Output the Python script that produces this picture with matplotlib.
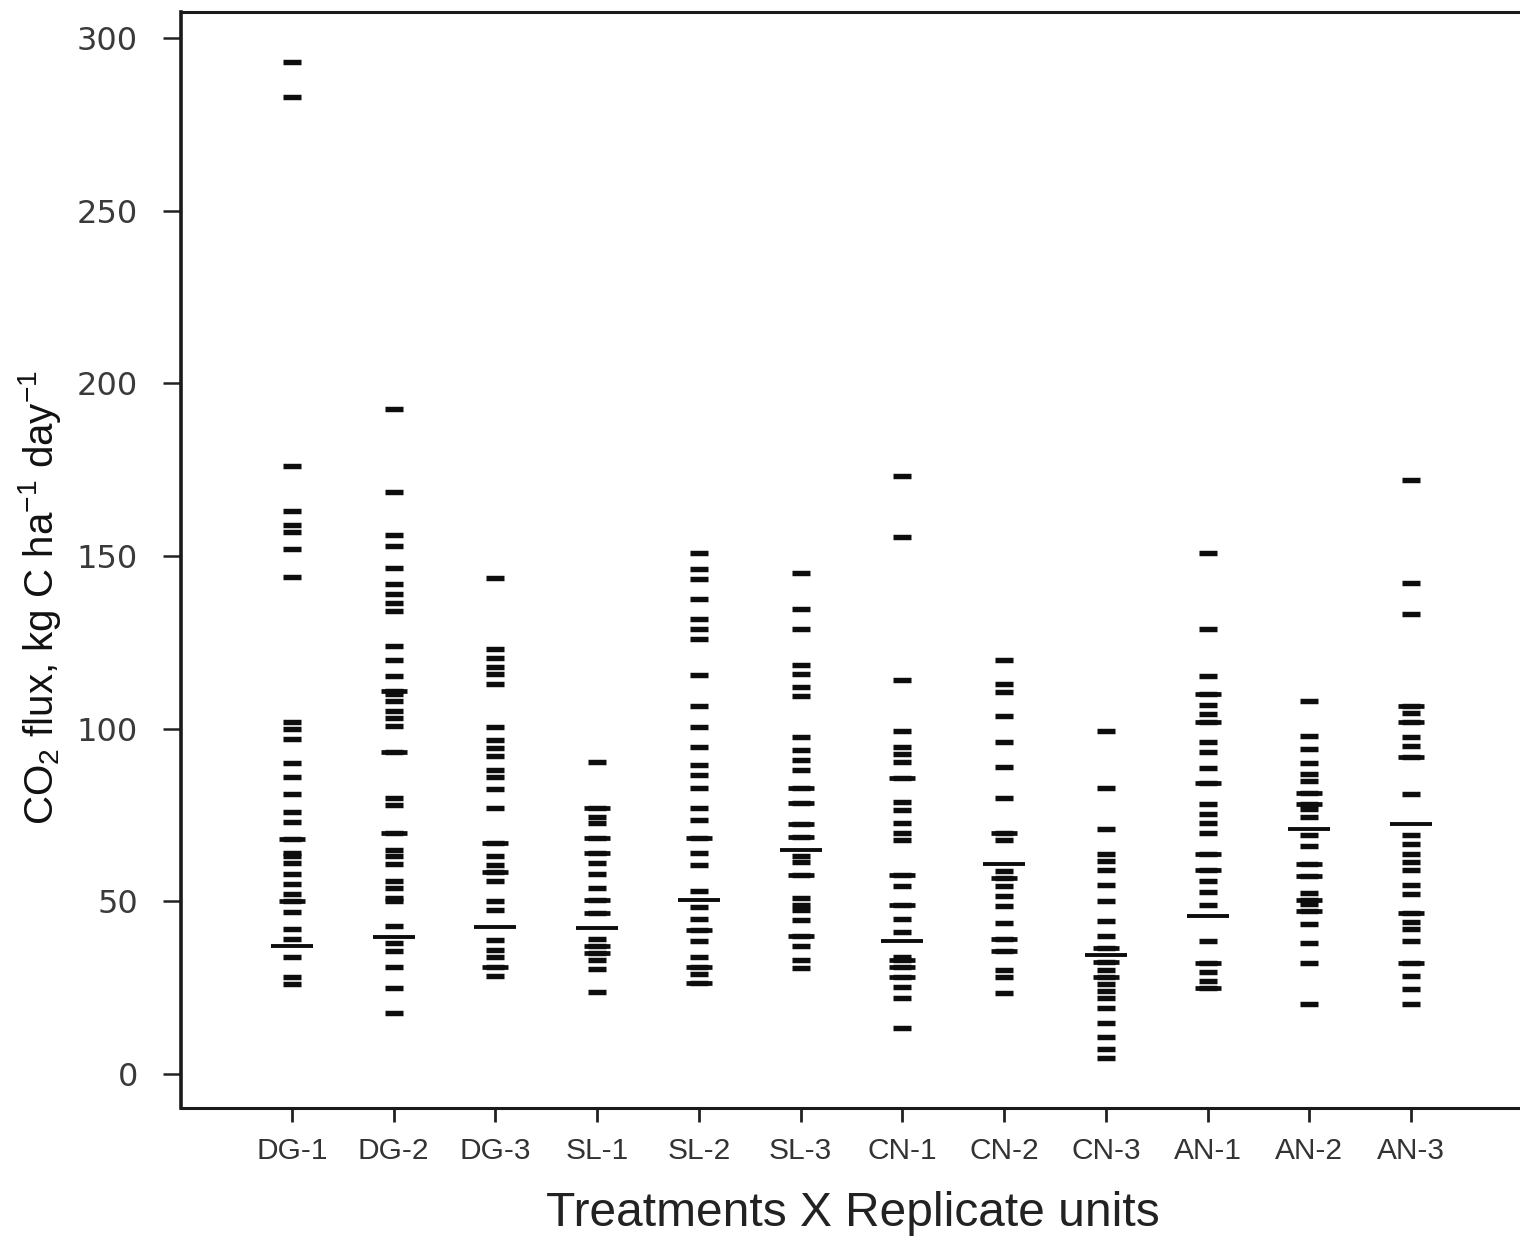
import numpy as np
import matplotlib
matplotlib.use("Agg")
import matplotlib.pyplot as plt

groups = ["DG-1", "DG-2", "DG-3", "SL-1", "SL-2", "SL-3",
          "CN-1", "CN-2", "CN-3", "AN-1", "AN-2", "AN-3"]

dg1 = [293, 283, 176, 163, 159, 157, 152, 144, 102, 100, 97, 90, 86, 81, 76, 73,
       68, 64, 63, 61, 58, 55, 52, 50, 47, 42, 39, 34, 28, 26]
dg2 = [192.5, 168.6, 156, 153, 146.5, 142, 139, 136.5, 134, 124, 120, 115.4, 111,
       110, 108, 105, 103, 100.8, 93.3, 80, 78, 69.8, 65, 63, 60.8, 56, 53.8, 51,
       50, 42.9, 38, 35.5, 31, 25, 17.6]
dg3 = [143.6, 123, 120.5, 118, 116, 113, 100.6, 96.7, 94.5, 92, 88, 86, 82.5, 77,
       66.9, 63, 60.5, 58.5, 56, 50.2, 47.5, 38.8, 36, 34, 31, 28.5]
sl1 = [90.5, 77, 74.5, 72.6, 68.3, 64, 61, 58, 54, 50.4, 46.6, 39, 37, 35, 33,
       30.5, 23.8]
sl2 = [151, 146.4, 143.5, 137.6, 131.8, 128.8, 125.9, 115.6, 106.6, 100.6, 94.6,
       89.5, 86.6, 82.7, 77, 73.5, 68.3, 64, 60.5, 53, 48.4, 45, 41.7, 38.5, 34,
       31, 29, 26.5]
sl3 = [145, 134.6, 128.8, 118.4, 116, 112, 109.6, 97.7, 93.8, 91, 88, 82.7, 78.4,
       72.4, 68.7, 63, 61.4, 57.6, 51, 49, 47.5, 44.6, 40, 37, 33, 30.7]
cn1 = [173.2, 155.4, 114, 99.3, 94.7, 92.6, 90.4, 85.7, 78.8, 76.5, 72.7, 69.9,
       67.7, 57.7, 54.5, 48.9, 45, 41.2, 34, 33, 31, 28, 25.2, 22, 13.3]
cn2 = [120, 113, 110.5, 103.7, 96.3, 88.9, 79.8, 69.9, 67.7, 58.8, 56.8, 54.5,
       51.5, 48.7, 43.8, 39, 35.5, 30, 28, 23.5]
cn3 = [99.3, 82.8, 71, 63.8, 61.6, 59.1, 54.7, 50.2, 44.4, 40, 36.6, 32.5, 30,
       28, 26, 24, 22, 19.2, 14.8, 10.6, 7.2, 4.6]
an1 = [151, 128.8, 115.3, 110, 107, 104.3, 102, 96.2, 93.2, 88.7, 84.3, 78.2,
       75.4, 72.7, 69.9, 63.8, 59, 56, 52.7, 48.9, 38.6, 32.2, 29.5, 27, 25]
an2 = [108, 98, 94, 90, 86.9, 85, 81.3, 78.3, 76.7, 74.5, 69.2, 66, 60.8, 57.3,
       52.5, 50.5, 49.3, 47.2, 43.4, 38, 32.1, 20.4]
an3 = [172, 142.3, 133.3, 106.7, 104.5, 102, 97.6, 94.9, 91.7, 81.2, 69.2, 66.5,
       63.8, 61.5, 59, 54.7, 52, 46.6, 44, 42, 38.6, 32.1, 28.4, 24.6, 20.4]

# flux values drawn with a slightly wider dash (overlapping readings)
dg1_wide = [68, 50]
dg2_wide = [111, 93.3, 69.8]
dg3_wide = [66.9, 58.5, 31]
sl1_wide = [77, 68.3, 64, 50.4, 46.6, 37, 35]
sl2_wide = [68.3, 41.7, 31, 26.5]
sl3_wide = [82.7, 78.4, 72.4, 68.7, 57.6, 40]
cn1_wide = [85.7, 57.7, 48.9, 33, 31, 28]
cn2_wide = [69.9, 56.8, 39, 35.5]
cn3_wide = [36.6, 32.5, 28]
an1_wide = [110, 102, 84.3, 63.8, 59, 32.2, 25]
an2_wide = [81.3, 78.3, 60.8, 57.3, 50.5, 47.2]
an3_wide = [106.7, 102, 91.7, 46.6, 32.1]

# long centre line per unit
centre = [37, 39.8, 42.7, 42.3, 50.4, 64.9, 38.6, 60.8, 34.5, 45.8, 71, 72.4]

series = [dg1, dg2, dg3, sl1, sl2, sl3, cn1, cn2, cn3, an1, an2, an3]
wides = [dg1_wide, dg2_wide, dg3_wide, sl1_wide, sl2_wide, sl3_wide,
         cn1_wide, cn2_wide, cn3_wide, an1_wide, an2_wide, an3_wide]

yticks = [0, 50, 100, 150, 200, 250, 300]

plt.rcParams['mathtext.default'] = 'regular'

fig = plt.figure(figsize=(15.2, 12.4), dpi=100)
ax = fig.add_axes([181 / 1520, 1 - 1108 / 1240, 1 - 181 / 1520, (1108 - 12) / 1240])

ink = '#0d0d0d'
for i, vals in enumerate(series):
    ax.plot(np.full(len(vals), i), vals, linestyle='none', marker='_',
            markersize=13.5, markeredgewidth=3.9, color=ink)
    w = wides[i]
    ax.plot(np.full(len(w), i), w, linestyle='none', marker='_',
            markersize=19, markeredgewidth=3.4, color=ink)
ax.plot(np.arange(len(groups)), centre, linestyle='none', marker='_',
        markersize=30, markeredgewidth=2.8, color=ink)

ax.set_xlim(-1.09, 12.07)
ax.set_ylim(-9.85, 307.6)

ax.set_yticks(yticks)
ax.set_yticklabels([str(v) for v in yticks], fontfamily='DejaVu Sans',
                   fontsize=23, color='#3a3a3a')
ax.set_xticks(np.arange(len(groups)))
ax.set_xticklabels(groups, fontfamily='Liberation Sans', fontsize=21.5,
                   color='#333333')

ax.tick_params(axis='y', direction='out', length=13, width=1.8, pad=18,
               color='#222222')
ax.tick_params(axis='x', direction='out', length=10, width=2.0, pad=11,
               color='#222222')

ax.spines['right'].set_visible(False)
ax.spines['left'].set_linewidth(2.6)
ax.spines['bottom'].set_linewidth(2.2)
ax.spines['top'].set_linewidth(2.2)
for s in ['left', 'bottom', 'top']:
    ax.spines[s].set_color('#1a1a1a')

fig.text(853 / 1520, 1 - 1214 / 1240, 'Treatments X Replicate units',
         ha='center', va='center', fontfamily='Liberation Sans', fontsize=34.5,
         color='#222222')
fig.text(40 / 1520, 1 - 597 / 1240,
         r'CO$_2$ flux, kg C ha$^{-1}$ day$^{-1}$',
         ha='center', va='center', rotation=90, fontfamily='Liberation Sans',
         fontsize=29, color='#111111')

fig.savefig('out.png', dpi=100)
